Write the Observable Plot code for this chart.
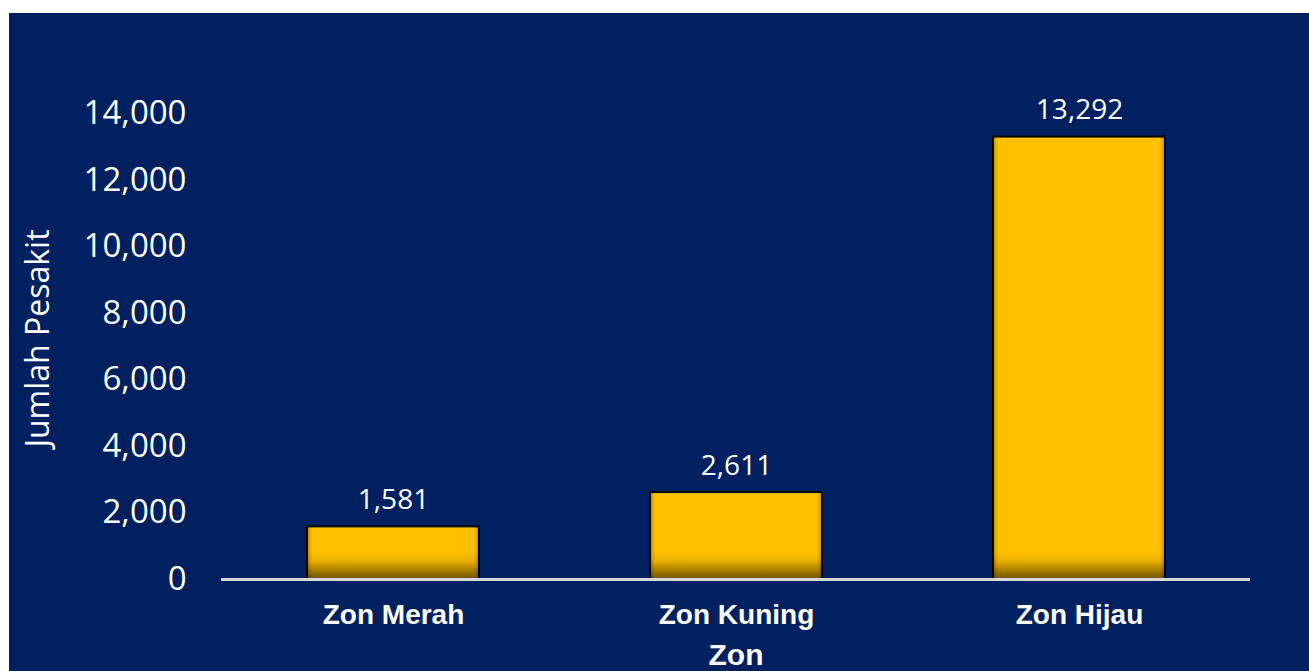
<!DOCTYPE html>
<html>
<head>
<meta charset="utf-8">
<script src="https://cdn.jsdelivr.net/npm/d3@7"></script>
<script src="https://cdn.jsdelivr.net/npm/@observablehq/plot@0.6"></script>
<style>
  html, body { margin: 0; padding: 0; background: #ffffff; width: 1309px; height: 671px; overflow: hidden; }
  #panel { position: absolute; left: 9px; top: 13px; width: 1300px; height: 658px; background: #002060; }
  #panel svg { display: block; }
</style>
</head>
<body>
<div id="panel"></div>
<script>
const zones = ["Zon Merah", "Zon Kuning", "Zon Hijau"];
const counts = [1581, 2611, 13292];
const yTicks = [0, 2000, 4000, 6000, 8000, 10000, 12000, 14000];
const yTitle = "Jumlah Pesakit";
const xTitle = "Zon";

const data = zones.map((z, i) => ({zone: z, count: counts[i]}));
const fmt = d3.format(",");
const boldFont = "'Liberation Sans', Arial, sans-serif";

const chart = Plot.plot({
  width: 1300,
  height: 658,
  marginLeft: 212,
  marginRight: 59,
  marginTop: 100,
  marginBottom: 92,
  style: {background: "transparent", color: "white", fontFamily: "'Open Sans', sans-serif", overflow: "visible"},
  x: {domain: zones, paddingInner: 0.5, paddingOuter: 0.25},
  y: {domain: [0, 14000]},
  marks: [
    Plot.axisY(yTicks, {tickSize: 0, tickPadding: 35, fontSize: 33, tickFormat: fmt, label: null}),
    Plot.axisX({tickSize: 0, tickPadding: 25, fontSize: 28, fontWeight: "bold", fontFamily: boldFont, label: null}),
    Plot.barY(data, {x: "zone", y: "count", fill: "url(#gv)"}),
    Plot.barY(data, {x: "zone", y: "count", fill: "url(#gh)"}),
    Plot.barY(data, {x: "zone", y: "count", fill: "none", stroke: "black", strokeWidth: 2}),
    Plot.ruleY([0], {stroke: "#d9d9d9", strokeWidth: 3}),
    Plot.text(data, {x: "zone", y: "count", text: d => fmt(d.count), dy: -27, fontSize: 28, fill: "white"}),
    Plot.text([yTitle], {frameAnchor: "left", textAnchor: "middle", lineAnchor: "middle", rotate: -90, dx: -183, dy: -8, fontSize: 32, fill: "white"}),
    Plot.text([xTitle], {frameAnchor: "bottom", textAnchor: "middle", lineAnchor: "middle", dy: 76, fontSize: 30, fontWeight: "bold", fontFamily: boldFont, fill: "white"})
  ]
});

const y0 = chart.scale("y").apply(0);
const defs = d3.select(chart).insert("defs", ":first-child");
const gv = defs.append("linearGradient")
  .attr("id", "gv").attr("gradientUnits", "userSpaceOnUse")
  .attr("x1", 0).attr("x2", 0).attr("y1", y0 - 28).attr("y2", y0);
gv.append("stop").attr("offset", 0).attr("stop-color", "#FFC000");
gv.append("stop").attr("offset", 0.35).attr("stop-color", "#EBB000");
gv.append("stop").attr("offset", 1).attr("stop-color", "#6E5300");
const gh = defs.append("linearGradient")
  .attr("id", "gh").attr("x1", 0).attr("x2", 1).attr("y1", 0).attr("y2", 0);
gh.append("stop").attr("offset", 0).attr("stop-color", "#000").attr("stop-opacity", 0.25);
gh.append("stop").attr("offset", 0.03).attr("stop-color", "#000").attr("stop-opacity", 0);
gh.append("stop").attr("offset", 0.97).attr("stop-color", "#000").attr("stop-opacity", 0);
gh.append("stop").attr("offset", 1).attr("stop-color", "#000").attr("stop-opacity", 0.25);

document.getElementById("panel").appendChild(chart);
</script>
</body>
</html>
